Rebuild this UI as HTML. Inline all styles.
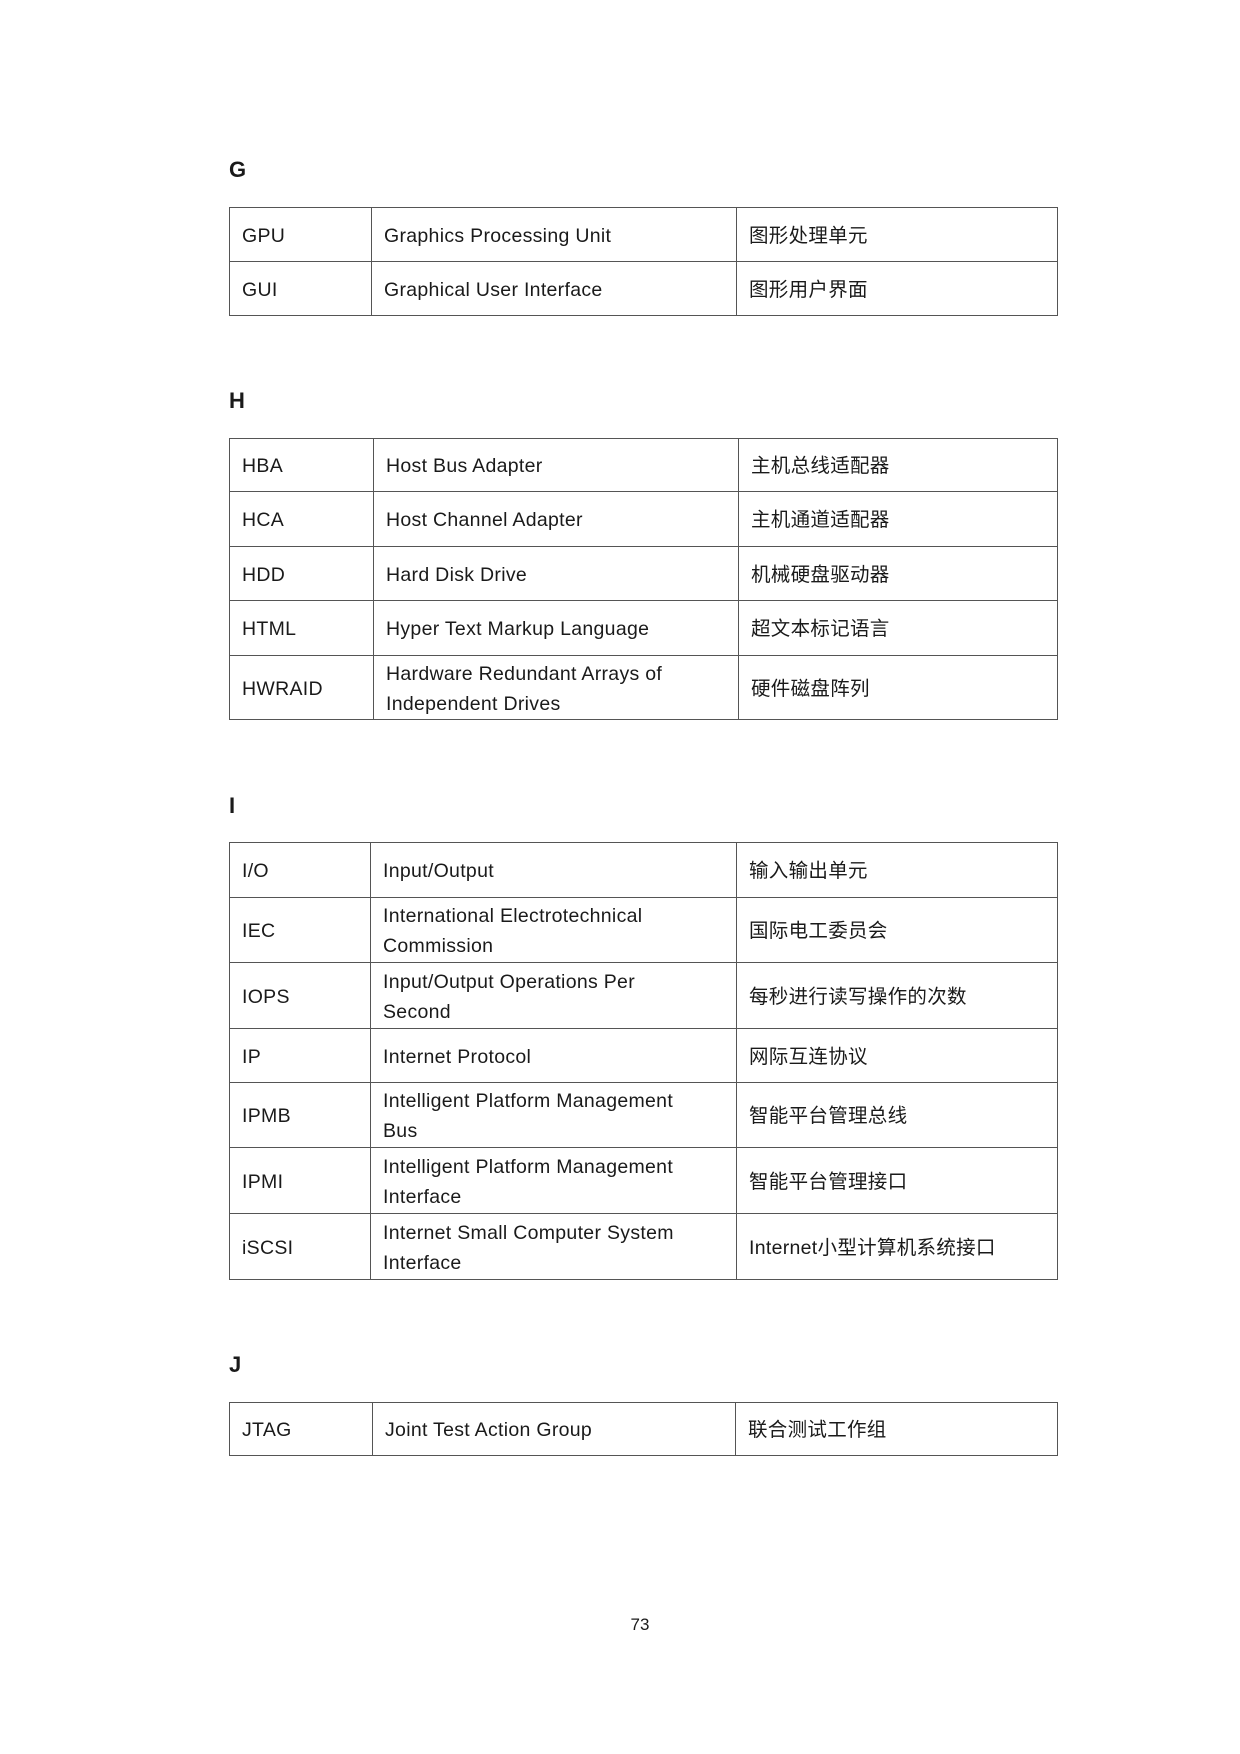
<!DOCTYPE html>
<html><head><meta charset="utf-8"><style>
body{margin:0;width:1240px;height:1754px;background:#fff;position:relative;font-family:"Liberation Sans","Noto Sans CJK SC",sans-serif;color:#1a1a1a}
h2{position:absolute;left:229px;margin:0;font-size:22px;font-weight:bold;line-height:24px}
table{position:absolute;left:229px;border-collapse:collapse;table-layout:fixed;width:828px}
td{border:1.5px solid #555;padding:2px 0 0 12px;font-size:19.5px;line-height:30px;vertical-align:middle;letter-spacing:0.3px}
.pn{position:absolute;left:600px;width:80px;text-align:center;top:1615px;font-size:17px}
</style></head><body>
<h2 style="top:158px">G</h2>
<table style="top:207px"><colgroup><col style="width:142px"><col style="width:365px"><col style="width:321px"></colgroup>
<tr style="height:54px"><td>GPU</td><td>Graphics Processing Unit</td><td>图形处理单元</td></tr>
<tr style="height:54px"><td>GUI</td><td>Graphical User Interface</td><td>图形用户界面</td></tr></table>

<h2 style="top:389px">H</h2>
<table style="top:438px"><colgroup><col style="width:144px"><col style="width:365px"><col style="width:319px"></colgroup>
<tr style="height:53px"><td>HBA</td><td>Host Bus Adapter</td><td>主机总线适配器</td></tr>
<tr style="height:55px"><td>HCA</td><td>Host Channel Adapter</td><td>主机通道适配器</td></tr>
<tr style="height:54px"><td>HDD</td><td>Hard Disk Drive</td><td>机械硬盘驱动器</td></tr>
<tr style="height:55px"><td>HTML</td><td>Hyper Text Markup Language</td><td>超文本标记语言</td></tr>
<tr style="height:64px"><td>HWRAID</td><td>Hardware Redundant Arrays of<br>Independent Drives</td><td>硬件磁盘阵列</td></tr></table>

<h2 style="top:794px">I</h2>
<table style="top:842px"><colgroup><col style="width:141px"><col style="width:366px"><col style="width:321px"></colgroup>
<tr style="height:55px"><td>I/O</td><td>Input/Output</td><td>输入输出单元</td></tr>
<tr style="height:65px"><td>IEC</td><td>International Electrotechnical<br>Commission</td><td>国际电工委员会</td></tr>
<tr style="height:66px"><td>IOPS</td><td>Input/Output Operations Per<br>Second</td><td>每秒进行读写操作的次数</td></tr>
<tr style="height:54px"><td>IP</td><td>Internet Protocol</td><td>网际互连协议</td></tr>
<tr style="height:65px"><td>IPMB</td><td>Intelligent Platform Management<br>Bus</td><td>智能平台管理总线</td></tr>
<tr style="height:66px"><td>IPMI</td><td>Intelligent Platform Management<br>Interface</td><td>智能平台管理接口</td></tr>
<tr style="height:66px"><td>iSCSI</td><td>Internet Small Computer System<br>Interface</td><td>Internet小型计算机系统接口</td></tr></table>

<h2 style="top:1353px">J</h2>
<table style="top:1402px"><colgroup><col style="width:143px"><col style="width:363px"><col style="width:322px"></colgroup>
<tr style="height:53px"><td>JTAG</td><td>Joint Test Action Group</td><td>联合测试工作组</td></tr></table>

<div class="pn">73</div>
</body></html>
